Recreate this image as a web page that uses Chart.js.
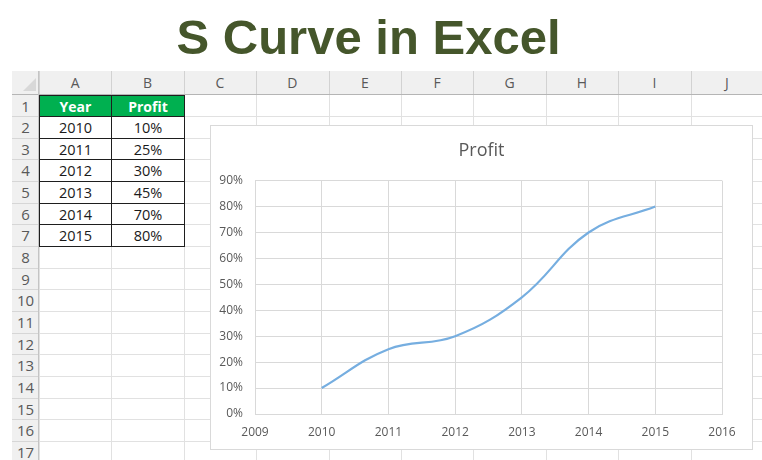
<!DOCTYPE html>
<html>
<head>
<meta charset="utf-8">
<title>S Curve in Excel</title>
<script src="https://cdn.jsdelivr.net/npm/chart.js@4.4.1/dist/chart.umd.min.js"></script>
<style>
  html, body { margin: 0; padding: 0; background: #fff; }
  body { width: 762px; height: 460px; position: relative; overflow: hidden; font-family: "Open Sans", sans-serif; }
  #title { position: absolute; left: 0; top: 13px; width: 737px; text-align: center;
           font: bold 49px/49px "Liberation Sans", Arial, sans-serif; color: #45562b; white-space: nowrap; }
  #sheet { position: absolute; left: 0; top: 0; width: 762px; height: 460px; }
  #sheet div { position: absolute; box-sizing: border-box; }
  #sheet .lbl { display: flex; align-items: center; justify-content: center; white-space: nowrap; }
  #chart-box { position: absolute; left: 210px; top: 125px; width: 543px; height: 325px;
               box-sizing: border-box; border: 1px solid #d9d9d9; background: #fff; }
  #profit-chart { position: absolute; left: 0; top: 0; }
</style>
</head>
<body>
<div id="title">S Curve in Excel</div>
<div id="sheet"></div>
<div id="chart-box"><canvas id="profit-chart" width="541" height="323"></canvas></div>

<script>
// DATA
const years = [2010, 2011, 2012, 2013, 2014, 2015];
const profit = [10, 25, 30, 45, 70, 80];
const tableHeaders = ["Year", "Profit"];
const colLetters = ["A", "B", "C", "D", "E", "F", "G", "H", "I", "J"];
const rowCount = 17;
const xMin = 2009, xMax = 2016;
const yMin = 0, yMax = 90, yStep = 10;


/////////////////////////////////////////////////////
//  SPREADSHEET BACKGROUND
const sheet = document.getElementById("sheet");
const HEAD_TOP = 71, ROW_TOP = 94.5, ROW_H = 21.66;
const NUM_LEFT = 12, COL_LEFT = 39, COL_W = 72.4;

function addDiv(x, y, w, h, css, text) {
  const d = document.createElement("div");
  d.style.cssText = `left:${x}px;top:${y}px;width:${w}px;height:${h}px;` + (css || "");
  if (text !== undefined) {
    d.className = "lbl";
    d.textContent = text;
  }
  sheet.appendChild(d);
  return d;
}

// header band + row number column
addDiv(NUM_LEFT, HEAD_TOP, 762 - NUM_LEFT, ROW_TOP - HEAD_TOP, "background:#f0f0f0");
addDiv(NUM_LEFT, ROW_TOP, COL_LEFT - NUM_LEFT, 460 - ROW_TOP, "background:#f0f0f0");
// corner triangle
addDiv(23, 78, 0, 0, "border-left:13px solid transparent;border-bottom:13px solid #d8d8d8");

// horizontal lines
for (let r = 1; r <= rowCount; r++) {
  const y = Math.round(ROW_TOP + r * ROW_H);
  addDiv(NUM_LEFT, y, COL_LEFT - NUM_LEFT, 1, "background:#d6d6d6");
  addDiv(COL_LEFT, y, 762 - COL_LEFT, 1, "background:#e1e1e1");
  addDiv(NUM_LEFT, Math.round(ROW_TOP + (r - 1) * ROW_H), COL_LEFT - NUM_LEFT, ROW_H,
    "color:#595959;font-size:15px", String(r));
}

// vertical lines + column letters
for (let c = 0; c <= colLetters.length; c++) {
  const x = Math.round(COL_LEFT + c * COL_W);
  addDiv(x, HEAD_TOP, 1, ROW_TOP - HEAD_TOP, "background:#d2d2d2");
  addDiv(x, ROW_TOP, 1, 460 - ROW_TOP, "background:#e1e1e1");
  if (c < colLetters.length) {
    addDiv(COL_LEFT + c * COL_W, HEAD_TOP, COL_W, ROW_TOP - HEAD_TOP,
      "color:#595959;font-size:14px", colLetters[c]);
  }
}
addDiv(NUM_LEFT, Math.round(ROW_TOP) - 1, 762 - NUM_LEFT, 1, "background:#b5b5b5");
addDiv(COL_LEFT - 1, HEAD_TOP, 1, 460 - HEAD_TOP, "background:#c4c4c4");

// DATA TABLE (A1:B7)
function cell(col, row, text, css) {
  const x = Math.round(COL_LEFT + col * COL_W);
  const y = Math.round(ROW_TOP + row * ROW_H);
  const w = Math.round(COL_LEFT + (col + 1) * COL_W) - x + 1;
  const h = Math.round(ROW_TOP + (row + 1) * ROW_H) - y + 1;
  addDiv(x, y, w, h, "border:1px solid #1e1e1e;" + css, text);
}
tableHeaders.forEach((t, i) => {
  cell(i, 0, t, "background:#00b050;color:#fff;font-weight:bold;font-size:14px");
});
years.forEach((yr, i) => {
  cell(0, i + 1, String(yr), "background:#fff;color:#1a1a1a;font-size:14.5px;font-weight:500");
  cell(1, i + 1, profit[i] + "%", "background:#fff;color:#1a1a1a;font-size:14.5px;font-weight:500");
});
/////////////////////////////////////////////////////


// PROFIT LINE CHART
const profitCanvas = document.getElementById("profit-chart");
const gridColor = "#d9d9d9";
const tickColor = "#595959";

const profitData = {
  datasets: [{
    label: "Profit",
    data: years.map((yr, i) => ({ x: yr, y: profit[i] })),
    borderColor: "#76aee0",
    borderWidth: 2.2,
    pointRadius: 0,
    fill: false,
    tension: 0.4
  }]
};

const profitOptions = {
  responsive: false,
  animation: false,
  layout: { padding: 0 },
  scales: {
    x: {
      type: "linear",
      min: xMin,
      max: xMax,
      afterFit: s => { s.height = 35; },
      ticks: {
        stepSize: 1,
        color: tickColor,
        font: { family: "Open Sans", size: 12 },
        padding: 11,
        callback: v => String(v)
      },
      grid: { color: gridColor, drawTicks: false },
      border: { color: gridColor }
    },
    y: {
      min: yMin,
      max: yMax,
      afterFit: s => { s.width = 44; },
      ticks: {
        stepSize: yStep,
        color: tickColor,
        font: { family: "Open Sans", size: 12 },
        padding: 12,
        callback: v => v + "%"
      },
      grid: { color: gridColor, drawTicks: false },
      border: { color: gridColor }
    },
    // empty right-hand gutter so the title stays centred on the whole box
    gutter: {
      position: "right",
      afterFit: s => { s.width = 30; },
      ticks: { display: false },
      grid: { display: false },
      border: { display: false }
    }
  },
  plugins: {
    legend: { display: false },
    tooltip: { enabled: false },
    title: {
      display: true,
      text: "Profit",
      color: tickColor,
      font: { family: "Open Sans", size: 18, weight: "normal" },
      padding: { top: 14, bottom: 19 }
    }
  }
};

let profitChart = new Chart(profitCanvas, {
  type: "line",
  data: profitData,
  options: profitOptions
});
</script>
</body>
</html>
